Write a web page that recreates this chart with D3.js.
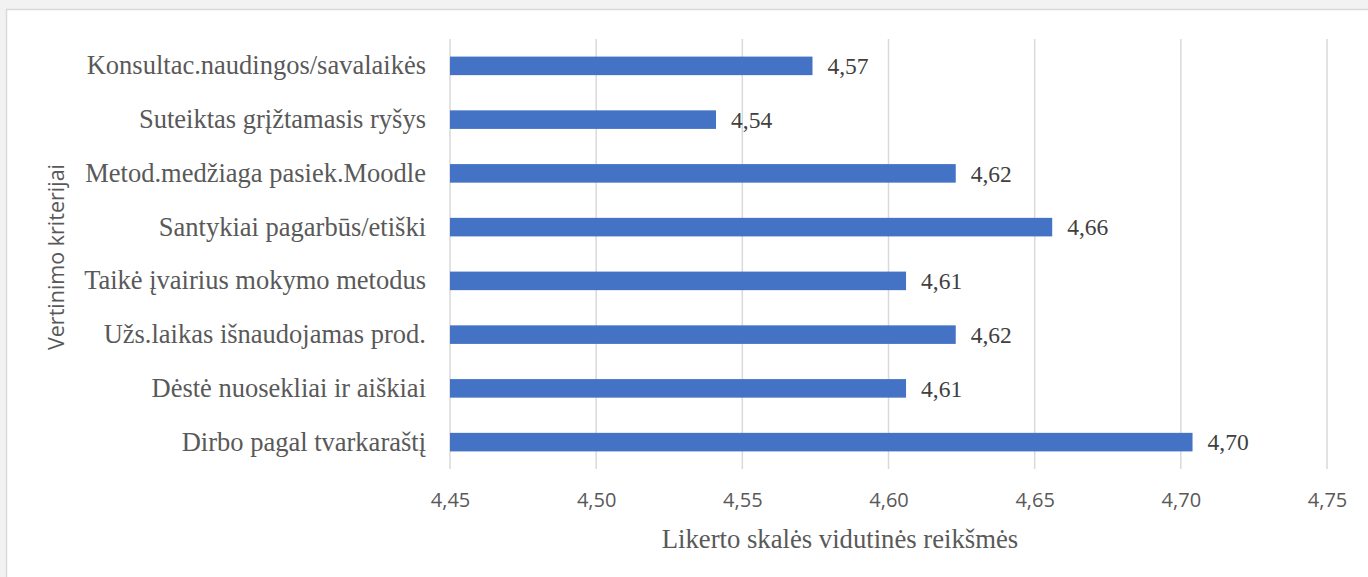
<!DOCTYPE html>
<html lang="lt">
<head>
<meta charset="UTF-8">
<script src="https://cdn.jsdelivr.net/npm/d3@7/dist/d3.min.js"></script>
<title>Vertinimo kriterijai</title>
<style>
  html, body { margin: 0; padding: 0; background: #f2f2f2; }
  svg { display: block; }
</style>
</head>
<body>
<script>
var categories = [
  "Konsultac.naudingos/savalaikės",
  "Suteiktas grįžtamasis ryšys",
  "Metod.medžiaga pasiek.Moodle",
  "Santykiai pagarbūs/etiški",
  "Taikė įvairius mokymo metodus",
  "Užs.laikas išnaudojamas prod.",
  "Dėstė nuosekliai ir aiškiai",
  "Dirbo pagal tvarkaraštį"
];
var values = [4.574, 4.541, 4.623, 4.656, 4.606, 4.623, 4.606, 4.704];
var xTicks = [4.45, 4.50, 4.55, 4.60, 4.65, 4.70, 4.75];

var width = 1368, height = 577;
var plotLeft = 450, plotRight = 1327, plotTop = 39, plotBottom = 469;
var serif = "'Liberation Serif', 'Times New Roman', serif";
var sans = "'Open Sans', 'Noto Sans', sans-serif";

var svg = d3.select("body").append("svg").attr("width", width).attr("height", height);

// white chart panel
svg.append("rect").attr("x", 6.5).attr("y", 9.5).attr("width", width).attr("height", height)
  .attr("fill", "#fff").attr("stroke", "#d9d9d9").attr("stroke-width", 1.5);

var x = d3.scaleLinear().domain([4.45, 4.75]).range([plotLeft, plotRight]);
var y = d3.scaleBand().domain(categories).range([plotTop, plotBottom]).paddingInner(0.655).paddingOuter(0.3275);

var fmt = function (d) { return d.toFixed(2).replace(".", ","); };

// gridlines
svg.selectAll("line.grid").data(xTicks).enter().append("line")
  .attr("class", "grid")
  .attr("x1", function (d) { return x(d); }).attr("x2", function (d) { return x(d); })
  .attr("y1", plotTop).attr("y2", plotBottom)
  .attr("stroke", "#d9d9d9").attr("stroke-width", 1.5);

// bars
svg.selectAll("rect.bar").data(values).enter().append("rect")
  .attr("class", "bar")
  .attr("x", x(4.45))
  .attr("y", function (d, i) { return y(categories[i]); })
  .attr("width", function (d) { return x(d) - x(4.45); })
  .attr("height", y.bandwidth())
  .attr("fill", "#4472c4");

// value labels
svg.selectAll("text.val").data(values).enter().append("text")
  .attr("class", "val")
  .attr("x", function (d) { return x(d) + 15; })
  .attr("y", function (d, i) { return y(categories[i]) + y.bandwidth() / 2; })
  .attr("dy", "0.35em")
  .style("font-family", serif)
  .style("font-size", "23.5px")
  .style("fill", "#404040")
  .text(fmt);

// y axis (category labels)
var yAxis = svg.append("g").attr("transform", "translate(" + (plotLeft - 24) + ",0)")
  .call(d3.axisLeft(y).tickSize(0).tickPadding(0));
yAxis.select(".domain").remove();
yAxis.selectAll("text")
  .style("font-family", serif)
  .style("font-size", "26.5px")
  .style("fill", "#595959");

// x axis
var xAxis = svg.append("g").attr("transform", "translate(0," + plotBottom + ")")
  .call(d3.axisBottom(x).tickValues(xTicks).tickFormat(fmt).tickSize(0).tickPadding(24));
xAxis.select(".domain").remove();
xAxis.selectAll("text")
  .style("font-family", sans)
  .style("font-size", "20px")
  .style("fill", "#595959");

// axis titles
svg.append("text")
  .attr("x", 840).attr("y", 548)
  .attr("text-anchor", "middle")
  .style("font-family", serif)
  .style("font-size", "26.7px")
  .style("fill", "#595959")
  .text("Likerto skalės vidutinės reikšmės");

svg.append("text")
  .attr("transform", "translate(64,257) rotate(-90)")
  .attr("text-anchor", "middle")
  .style("font-family", sans)
  .style("font-size", "21.5px")
  .style("fill", "#595959")
  .text("Vertinimo kriterijai");
</script>
</body>
</html>
